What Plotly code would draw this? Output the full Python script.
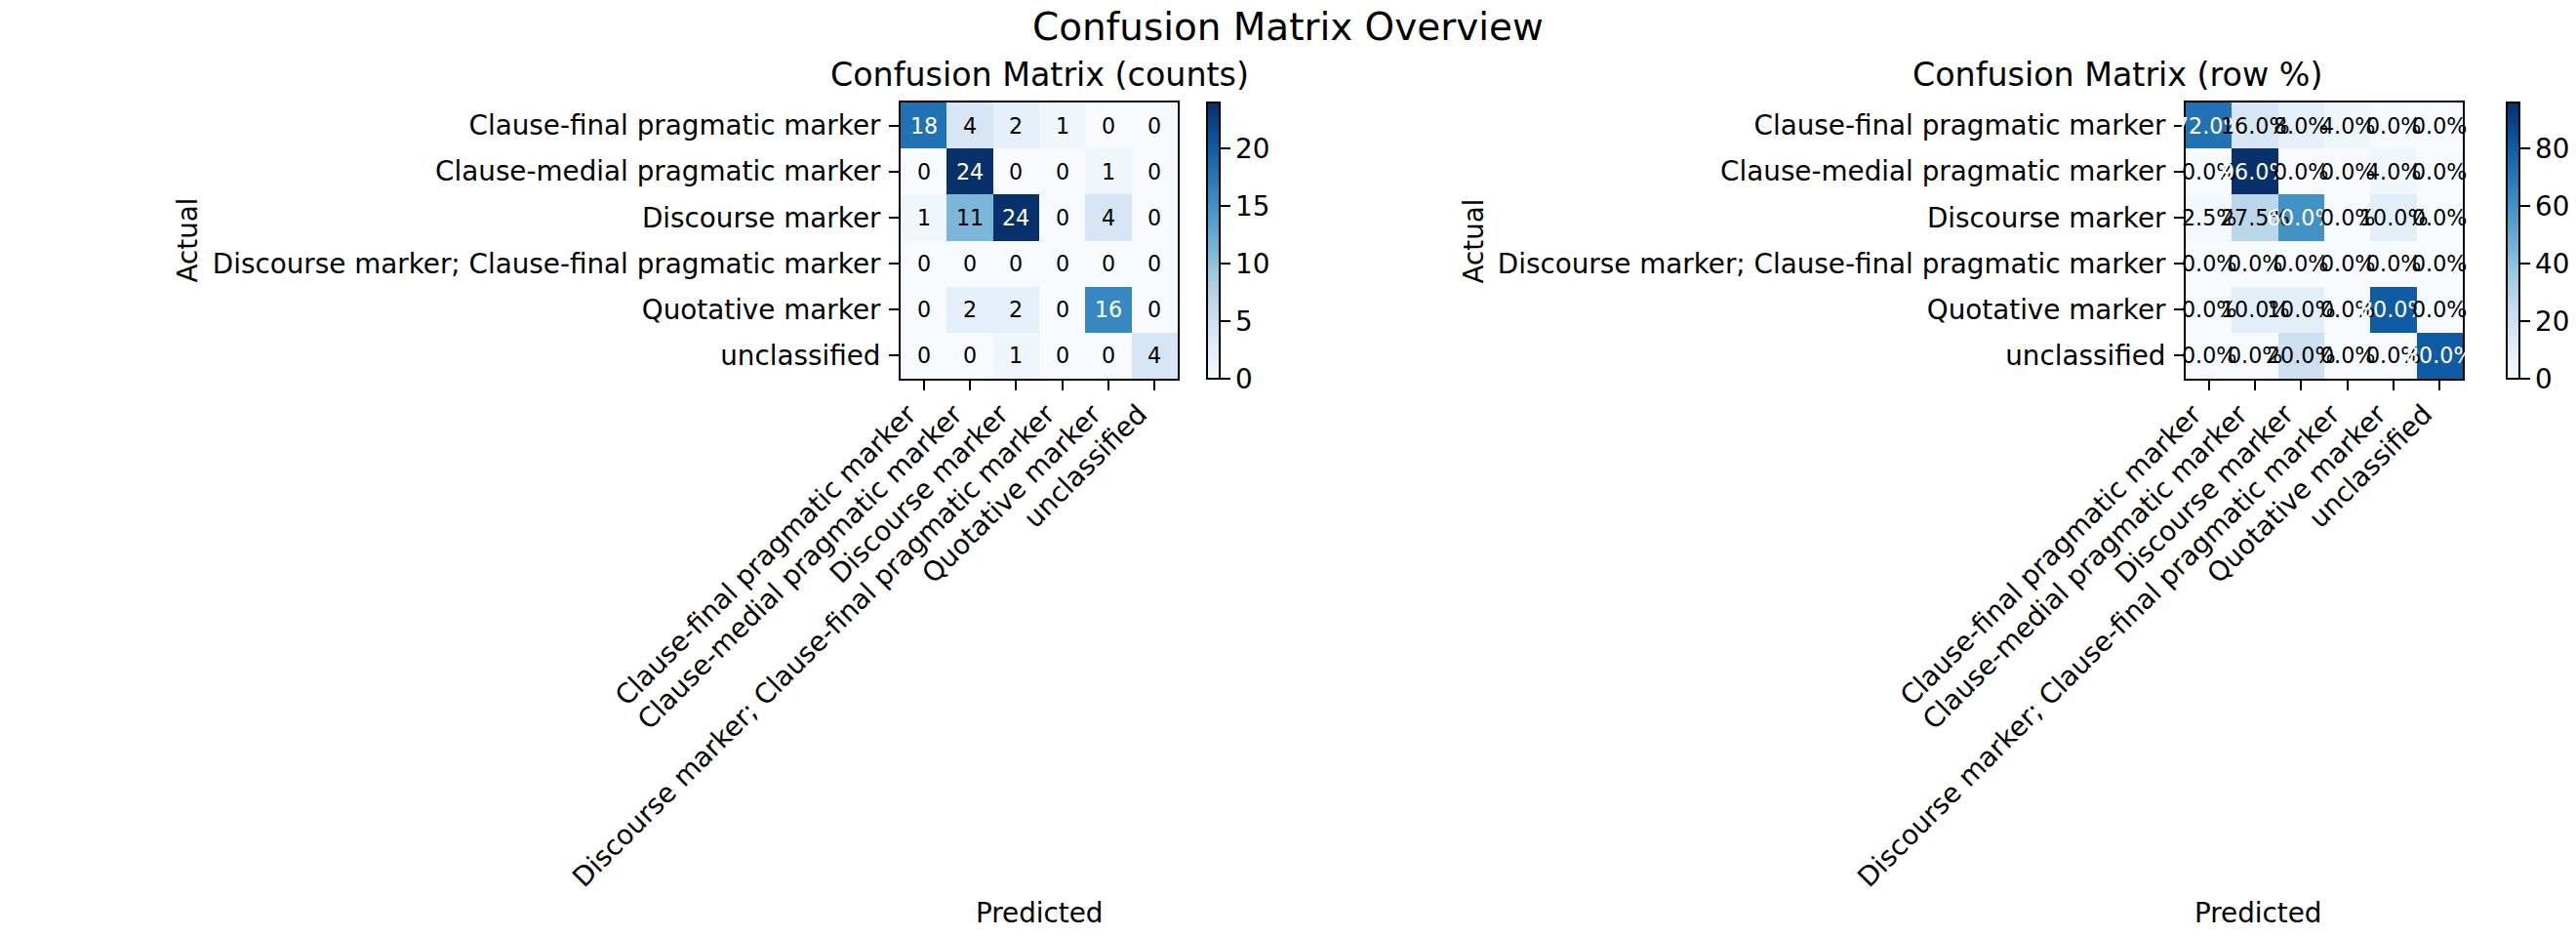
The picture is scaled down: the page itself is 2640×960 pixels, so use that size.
import plotly.graph_objects as go

labels = [
    "Clause-final pragmatic marker",
    "Clause-medial pragmatic marker",
    "Discourse marker",
    "Discourse marker; Clause-final pragmatic marker",
    "Quotative marker",
    "unclassified",
]
counts = [
    [18, 4, 2, 1, 0, 0],
    [0, 24, 0, 0, 1, 0],
    [1, 11, 24, 0, 4, 0],
    [0, 0, 0, 0, 0, 0],
    [0, 2, 2, 0, 16, 0],
    [0, 0, 1, 0, 0, 4],
]
cb_ticks_counts = [0, 5, 10, 15, 20]
cb_ticks_pct = [0, 20, 40, 60, 80]

# row percentages derived from counts
pct = []
for row in counts:
    s = sum(row)
    pct.append([(v / s * 100.0) if s else 0.0 for v in row])

# the page body adds an 8px margin; lay out in page pixels and compensate
OFF = 8
W, H = 2640 - OFF, 960 - OFF
FONT = "DejaVu Sans"
blues = ['#f7fbff', '#deebf7', '#c6dbef', '#9ecae1', '#6baed6',
         '#4292c6', '#2171b5', '#08519c', '#08306b']
cscale = [[i / (len(blues) - 1), c] for i, c in enumerate(blues)]

def fx(px):
    return (px - OFF) / W

def fy(py):
    return 1 - (py - OFF) / H

panels = [
    dict(x0=923, x1=1207, cbx=1237, data=counts, fmt=lambda v: f"{v:d}",
         title="Confusion Matrix (counts)", ticks=cb_ticks_counts, actual_x=192),
    dict(x0=2240, x1=2524, cbx=2569, data=pct, fmt=lambda v: f"{v:.1f}%",
         title="Confusion Matrix (row %)", ticks=cb_ticks_pct, actual_x=1510),
]
Y0, Y1 = 105, 388

fig = go.Figure()
annotations = []
for i, p in enumerate(panels, start=1):
    xa = "x" if i == 1 else f"x{i}"
    ya = "y" if i == 1 else f"y{i}"
    z = p["data"]
    zmax = max(max(r) for r in z)
    fig.add_trace(go.Heatmap(
        z=z, x=labels, y=labels, xaxis=xa, yaxis=ya,
        colorscale=cscale, zmin=0, zmax=zmax, hoverinfo="skip",
        colorbar=dict(
            x=fx(p["cbx"]), xanchor="left", xpad=0, ypad=0,
            y=fy(Y1), yanchor="bottom", len=(Y1 - Y0) / H, lenmode="fraction",
            thickness=13, outlinewidth=2, outlinecolor="black",
            tickvals=p["ticks"], ticks="outside", ticklen=10, tickwidth=2,
            tickcolor="black", tickfont=dict(family=FONT, size=27.8, color="black"),
        ),
    ))
    for r, row in enumerate(z):
        for c, v in enumerate(row):
            annotations.append(dict(
                x=labels[c], y=labels[r], xref=xa, yref=ya, text=p["fmt"](v),
                showarrow=False,
                font=dict(family=FONT, size=22.2,
                          color="white" if v > zmax / 2 else "black"),
            ))
    axis_common = dict(showgrid=False, zeroline=False, showline=True, mirror=True,
                       linecolor="black", linewidth=2, ticks="outside", ticklen=10,
                       tickwidth=2, tickcolor="black", automargin=False,
                       tickfont=dict(family=FONT, size=27.8, color="black"))
    fig.update_layout(**{
        ("xaxis" if i == 1 else f"xaxis{i}"): dict(
            domain=[fx(p["x0"]), fx(p["x1"])], anchor=ya, type="category",
            range=[-0.5, len(labels) - 0.5], tickangle=-45,
            ticklabelshift=-16, ticklabelstandoff=-3, **axis_common),
        ("yaxis" if i == 1 else f"yaxis{i}"): dict(
            domain=[fy(Y1), fy(Y0)], anchor=xa, type="category",
            range=[len(labels) - 0.5, -0.5], ticklabelstandoff=3, **axis_common),
    })
    cx = (p["x0"] + p["x1"]) / 2
    annotations.append(dict(x=fx(cx), y=fy(77), xref="paper", yref="paper",
                            text=p["title"], showarrow=False, yanchor="middle",
                            font=dict(family=FONT, size=33.3, color="black")))
    annotations.append(dict(x=fx(cx), y=fy(935), xref="paper", yref="paper",
                            text="Predicted", showarrow=False, yanchor="middle",
                            font=dict(family=FONT, size=27.8, color="black")))
    annotations.append(dict(x=fx(p["actual_x"]), y=fy((Y0 + Y1) / 2), xref="paper",
                            yref="paper", text="Actual", showarrow=False,
                            textangle=-90, xanchor="center", yanchor="middle",
                            font=dict(family=FONT, size=27.8, color="black")))

annotations.append(dict(x=fx(1320), y=fy(27), xref="paper", yref="paper",
                        text="Confusion Matrix Overview", showarrow=False,
                        yanchor="middle",
                        font=dict(family=FONT, size=38.9, color="black")))

fig.update_layout(width=W, height=H,
                  margin=dict(l=0, r=0, t=0, b=0, autoexpand=False),
                  paper_bgcolor="white", plot_bgcolor="white",
                  annotations=annotations, showlegend=False,
                  font=dict(family=FONT, color="black"))
fig.write_html("out.html")
